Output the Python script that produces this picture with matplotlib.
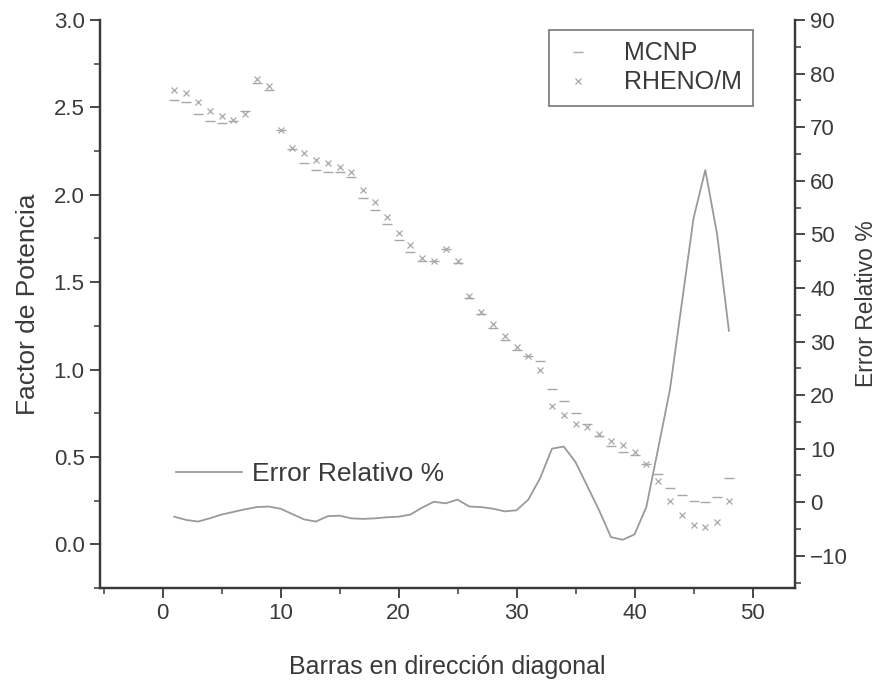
import matplotlib
matplotlib.use("Agg")
import matplotlib.pyplot as plt
from matplotlib.ticker import MultipleLocator, FormatStrFormatter
from matplotlib.lines import Line2D

plt.rcParams['font.family'] = ['Liberation Sans', 'DejaVu Sans']

barras = list(range(1, 49))

mcnp = [2.54, 2.53, 2.46, 2.42, 2.41, 2.42, 2.48, 2.64, 2.60, 2.37,
        2.26, 2.18, 2.14, 2.13, 2.13, 2.10, 1.98, 1.91, 1.83, 1.74,
        1.67, 1.62, 1.62, 1.69, 1.61, 1.41, 1.32, 1.24, 1.17, 1.11,
        1.08, 1.05, 0.89, 0.82, 0.75, 0.69, 0.62, 0.56, 0.53, 0.51,
        0.46, 0.40, 0.32, 0.28, 0.25, 0.24, 0.27, 0.38]

rheno = [2.60, 2.58, 2.53, 2.48, 2.45, 2.43, 2.46, 2.66, 2.62, 2.37,
         2.27, 2.24, 2.20, 2.18, 2.16, 2.13, 2.03, 1.96, 1.87, 1.78,
         1.71, 1.64, 1.62, 1.69, 1.62, 1.42, 1.33, 1.26, 1.19, 1.13,
         1.08, 1.00, 0.79, 0.74, 0.69, 0.67, 0.63, 0.59, 0.57, 0.53,
         0.46, 0.36, 0.25, 0.17, 0.11, 0.10, 0.13, 0.25]

error_rel = [-2.7, -3.3, -3.6, -3.0, -2.3, -1.8, -1.3, -0.9, -0.8, -1.2,
             -2.2, -3.2, -3.6, -2.6, -2.5, -3.0, -3.1, -3.0, -2.8, -2.7,
             -2.3, -1.0, 0.1, -0.2, 0.5, -0.8, -0.9, -1.2, -1.7, -1.5,
             0.5, 4.5, 10.0, 10.4, 7.5, 3.0, -1.5, -6.5, -7.0, -6.0,
             -0.9, 10.0, 21.0, 37.0, 53.0, 62.0, 50.0, 32.0]

txt = '#3a3a3a'
spine_c = '#3a3a3a'
mk_c = '#a8a8a8'
line_c = '#9a9a9a'

fig = plt.figure(figsize=(8.81, 6.86), dpi=100)
ax = fig.add_axes([100/881, 1-588/686, 695/881, 568/686])
ax2 = ax.twinx()

ax.plot(barras, mcnp, linestyle='none', marker='_', markersize=7, color=mk_c,
        markeredgewidth=1.0, label='MCNP')
ax.plot(barras, rheno, linestyle='none', marker='x', markersize=5, color=mk_c,
        markeredgewidth=0.9, label='RHENO/M')
ax2.plot(barras, error_rel, color=line_c, linewidth=1.3)

ax.set_xlim(-5.3, 53.6)
ax.set_ylim(-0.25, 3.0)
ax2.set_ylim(-16, 90)

ax.xaxis.set_major_locator(MultipleLocator(10))
ax.xaxis.set_minor_locator(MultipleLocator(5))
ax.yaxis.set_major_locator(MultipleLocator(0.5))
ax.yaxis.set_minor_locator(MultipleLocator(0.25))
ax2.yaxis.set_major_locator(MultipleLocator(10))
ax2.yaxis.set_minor_locator(MultipleLocator(5))

for a in (ax, ax2):
    for s in a.spines.values():
        s.set_color(spine_c)
        s.set_linewidth(1.6)
    a.spines['top'].set_visible(False)
    a.tick_params(which='major', direction='out', length=7, width=1.3,
                  colors=spine_c, labelcolor=txt, labelsize=16, pad=4)
    a.tick_params(which='minor', direction='out', length=4, width=1.1,
                  colors=spine_c)

ax.yaxis.set_major_formatter(FormatStrFormatter('%.1f'))

ax.set_xlabel('Barras en dirección diagonal', fontsize=18, color=txt, labelpad=22)
ax.set_ylabel('Factor de Potencia', fontsize=19, color=txt, labelpad=10)
ax2.set_ylabel('Error Relativo %', fontsize=16.5, color=txt, rotation=90, labelpad=5)

leg = ax.legend(loc='upper right', bbox_to_anchor=(0.94, 0.982), frameon=True,
                fancybox=False, edgecolor='#555555', fontsize=18,
                handlelength=1.4, borderpad=0.45, labelspacing=0.2,
                handletextpad=1.15, borderaxespad=0.0)
leg.get_frame().set_linewidth(1.2)
for t in leg.get_texts():
    t.set_color(txt)

h = Line2D([], [], color=line_c, linewidth=1.3)
leg2 = ax2.legend([h], ['Error Relativo %'], loc='center left',
                  bbox_to_anchor=(0.075, 0.2), frameon=False, fontsize=19,
                  handlelength=2.5, handletextpad=0.4)
for t in leg2.get_texts():
    t.set_color(txt)

fig.savefig('out.png', dpi=100, facecolor='white')
